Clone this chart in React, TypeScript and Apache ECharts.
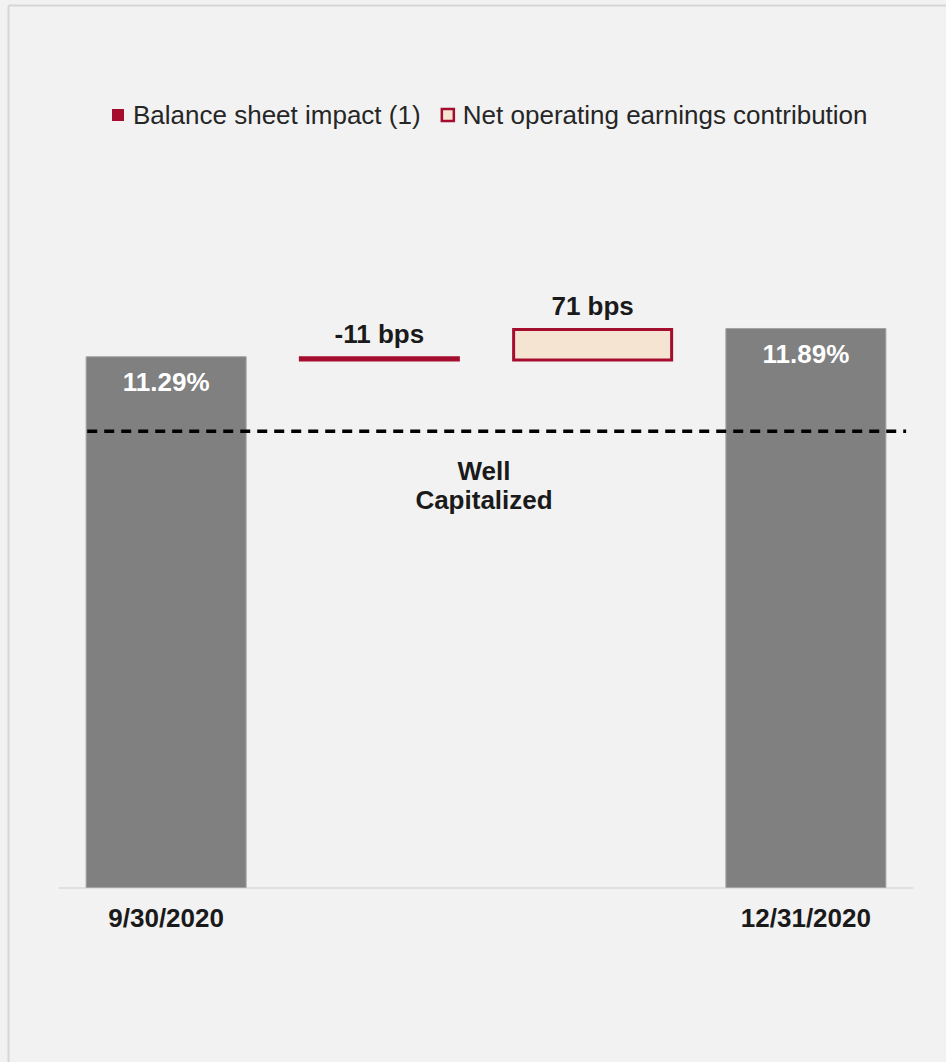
import React, { useEffect, useRef } from "react";
import * as echarts from "echarts";

const categories = ["9/30/2020", "", "", "12/31/2020"];
const startRatio = 11.29; // %
const endRatio = 11.89; // %
const balanceSheetBps = -11;
const netEarningsBps = 71;
const wellCapitalizedLevel = 9.7; // position of dashed reference line
const wellCapitalizedSpan = [-0.37, 3.47]; // extent along category positions
const legendNames = ["Balance sheet impact (1)", "Net operating earnings contribution"];

const FONT = "'Liberation Sans', Arial, sans-serif";
const RED = "#a50d2e";
const PEACH = "#f6e4d3";
const GRAY = "#808080";

export default function App() {
  const ref = useRef<HTMLDivElement>(null);
  useEffect(() => {
    document.body.style.margin = "0";
    if (!ref.current) return;
    const chart = echarts.init(ref.current, undefined, { renderer: "svg" });

    const afterBalance = startRatio + balanceSheetBps / 100;
    const helper = [0, afterBalance, afterBalance, 0];
    const totals: any[] = [startRatio, "-", "-", endRatio];
    const balance: any[] = ["-", Math.abs(balanceSheetBps) / 100, "-", "-"];
    const net: any[] = ["-", "-", netEarningsBps / 100, "-"];

    const bpsLabel = (bps: number) => `${bps} bps`;

    chart.setOption({
      animation: false,
      backgroundColor: "#f2f2f2",
      textStyle: { fontFamily: FONT },
      legend: {
        left: 107,
        top: 97,
        icon: "rect",
        itemWidth: 12,
        itemHeight: 12,
        itemGap: 20,
        selectedMode: false,
        textStyle: { fontSize: 26, color: "#262626", fontFamily: FONT, padding: [0, 0, 0, 4] },
        data: [
          { name: legendNames[0], itemStyle: { color: RED, borderWidth: 0 } },
          { name: legendNames[1], itemStyle: { color: PEACH, borderColor: RED, borderWidth: 2.5 } },
        ],
      },
      grid: { left: 59.5, right: 33.5, top: 228.6, bottom: 174, containLabel: false },
      xAxis: [
        {
          type: "category",
          data: categories,
          axisLine: { show: true, lineStyle: { color: "#d9d9d9", width: 1.5 } },
          axisTick: { show: false },
          axisLabel: {
            margin: 17,
            fontSize: 26,
            fontWeight: "bold",
            color: "#1a1a1a",
            fontFamily: FONT,
            interval: 0,
          },
        },
        { type: "value", min: -0.5, max: 3.5, show: false },
      ],
      yAxis: { type: "value", min: 0, max: 14, show: false },
      graphic: [
        {
          type: "text",
          x: 484,
          y: 456,
          style: {
            text: "Well\nCapitalized",
            align: "center",
            verticalAlign: "top",
            fontSize: 26,
            lineHeight: 29,
            fontWeight: "bold",
            fill: "#1a1a1a",
            fontFamily: FONT,
          },
        },
        { type: "line", shape: { x1: 8.5, y1: 5.5, x2: 946, y2: 5.5 }, style: { stroke: "#d6d6d6", lineWidth: 2 } },
        { type: "line", shape: { x1: 8.5, y1: 5.5, x2: 8.5, y2: 1062 }, style: { stroke: "#d6d6d6", lineWidth: 2 } },
      ],
      series: [
        {
          name: "helper",
          type: "bar",
          stack: "w",
          barWidth: 161,
          silent: true,
          itemStyle: { color: "transparent" },
          data: helper,
        },
        {
          name: "Total",
          type: "bar",
          stack: "w",
          barWidth: 161,
          itemStyle: { color: GRAY, borderColor: "#a3a3a3", borderWidth: 1 },
          label: {
            show: true,
            position: "insideTop",
            distance: 13,
            color: "#ffffff",
            fontSize: 26,
            fontWeight: "bold",
            fontFamily: FONT,
            formatter: (p: any) => `${Number(p.value).toFixed(2)}%`,
          },
          data: totals,
        },
        {
          name: legendNames[0],
          type: "bar",
          stack: "w",
          barWidth: 161,
          itemStyle: { color: RED, borderColor: RED, borderWidth: 3 },
          label: {
            show: true,
            position: "top",
            distance: 9,
            color: "#1a1a1a",
            fontSize: 26,
            fontWeight: "bold",
            fontFamily: FONT,
            formatter: () => bpsLabel(balanceSheetBps),
          },
          data: balance,
        },
        {
          name: legendNames[1],
          type: "bar",
          stack: "w",
          barWidth: 161,
          itemStyle: { color: PEACH, borderColor: RED, borderWidth: 3 },
          label: {
            show: true,
            position: "top",
            distance: 9,
            color: "#1a1a1a",
            fontSize: 26,
            fontWeight: "bold",
            fontFamily: FONT,
            formatter: () => bpsLabel(netEarningsBps),
          },
          data: net,
        },
        {
          name: "Well Capitalized",
          type: "line",
          xAxisIndex: 1,
          symbol: "none",
          silent: true,
          lineStyle: { color: "#000000", width: 3.5, type: [10, 7] },
          data: wellCapitalizedSpan.map((x) => [x, wellCapitalizedLevel]),
          z: 5,
        },
      ],
    });
    return () => chart.dispose();
  }, []);
  return <div ref={ref} style={{ width: 946, height: 1062 }} />;
}
